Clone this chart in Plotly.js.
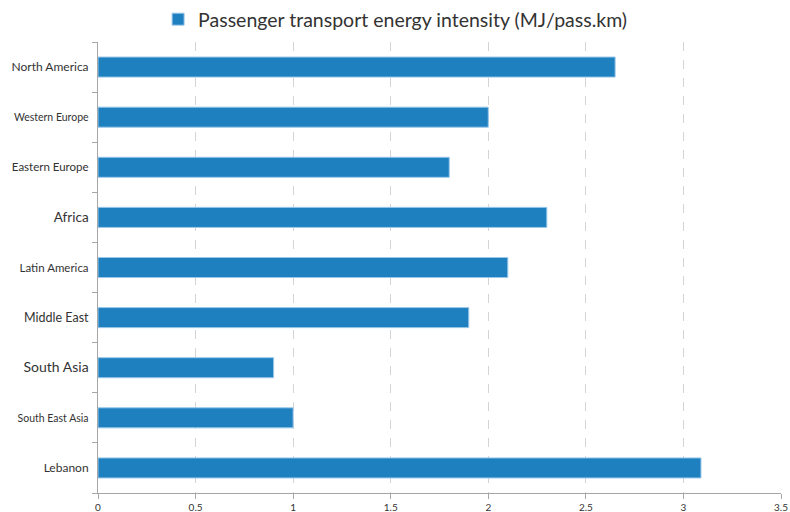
<!DOCTYPE html>
<html>
<head>
<meta charset="utf-8">
<script src="https://cdn.plot.ly/plotly-3.0.1.min.js"></script>
<style>html,body{margin:0;padding:0;background:#fff;}#chart{width:790px;height:512px;}</style>
</head>
<body>
<div id="chart"></div>
<script>
// Regions, listed top to bottom
const regions = ["North America", "Western Europe", "Eastern Europe", "Africa", "Latin America",
                 "Middle East", "South Asia", "South East Asia", "Lebanon"];
// Energy intensity, MJ per passenger-km
const intensity = [2.65, 2.0, 1.8, 2.3, 2.1, 1.9, 0.9, 1.0, 3.09];
// Label font sizes per region (px)
const labelSizes = [12, 10.5, 11.5, 13.5, 11.5, 12.5, 14, 10.5, 12];
const seriesName = "Passenger transport energy intensity (MJ/pass.km)";
const xTicks = [0, 0.5, 1, 1.5, 2, 2.5, 3, 3.5];
const xTickText = ["0", "0.5", "1", "1.5", "2", "2.5", "3", "3.5"];

const yTickText = regions.map((r, i) => `<span style="font-size:${labelSizes[i]}px">${r}</span>`);

const trace = {
  type: "bar",
  orientation: "h",
  y: regions,
  x: intensity,
  name: seriesName,
  width: 0.4,
  marker: { color: "#1f80c0", line: { color: "#9cc8ea", width: 1 } },
  hoverinfo: "x+y"
};

const layout = {
  width: 790, height: 512,
  margin: { l: 98, r: 9, t: 42, b: 19, autoexpand: false },
  paper_bgcolor: "#ffffff", plot_bgcolor: "#ffffff",
  font: { family: "Lato, 'Open Sans', sans-serif", color: "#333333" },
  showlegend: true,
  legend: {
    orientation: "h", x: 0.435, xanchor: "center",
    yref: "container", y: 1.0, yanchor: "top",
    font: { size: 19.5, color: "#333333" }, itemwidth: 30
  },
  xaxis: {
    range: [0, 3.5],
    tickvals: xTicks, ticktext: xTickText,
    tickfont: { size: 10, color: "#333333" },
    showgrid: true, gridcolor: "#d4d4d4", griddash: "dash", gridwidth: 1,
    showline: true, linecolor: "#a6a6a6", linewidth: 1,
    ticks: "outside", ticklen: 5, tickcolor: "#a6a6a6",
    zeroline: false, fixedrange: true
  },
  yaxis: {
    type: "category",
    categoryorder: "array", categoryarray: regions,
    autorange: "reversed",
    tickvals: regions, ticktext: yTickText,
    tickfont: { color: "#333333" },
    showgrid: false,
    showline: true, linecolor: "#a6a6a6", linewidth: 1,
    ticks: "outside", tickson: "boundaries", ticklen: 5, tickcolor: "#a6a6a6",
    ticklabelstandoff: 6,
    zeroline: false, fixedrange: true
  }
};

Plotly.newPlot("chart", [trace], layout, { displayModeBar: false, staticPlot: true });
</script>
</body>
</html>
